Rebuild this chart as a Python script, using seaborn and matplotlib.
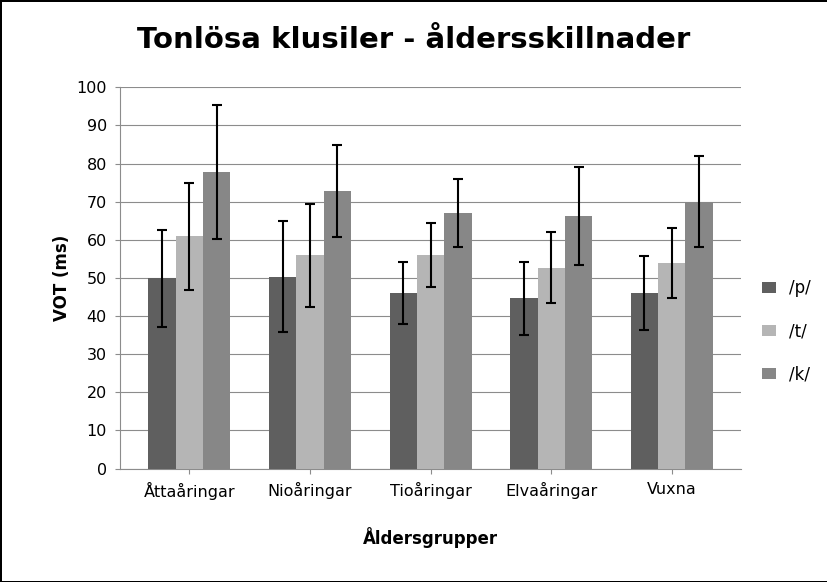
import seaborn as sns
import numpy as np
import pandas as pd
import matplotlib.pyplot as plt

groups = ["Åttaåringar", "Nioåringar", "Tioåringar", "Elvaåringar", "Vuxna"]
sounds = ["/p/", "/t/", "/k/"]
p_mean = [49.9, 50.3, 46.1, 44.7, 46.1]
t_mean = [60.9, 55.9, 55.9, 52.7, 53.8]
k_mean = [77.8, 72.7, 67.0, 66.3, 70.0]
p_err = [12.7, 14.5, 8.2, 9.6, 9.7]
t_err = [14.0, 13.6, 8.4, 9.4, 9.2]
k_err = [17.6, 12.1, 8.9, 12.8, 11.9]

df = pd.DataFrame({
    "grupp": groups * 3,
    "ljud": [s for s in sounds for _ in groups],
    "vot": p_mean + t_mean + k_mean,
    "err": p_err + t_err + k_err,
})
colors = ["#5f5f5f", "#b5b5b5", "#878787"]

fig = plt.figure(figsize=(8.28, 5.82), dpi=100)
fig.patch.set_edgecolor("black")
fig.patch.set_linewidth(2)
ax = fig.add_axes([0.145, 0.195, 0.75, 0.655])
sns.barplot(data=df, x="grupp", y="vot", hue="ljud", palette=colors,
            width=0.68, errorbar=None, ax=ax, zorder=3, legend=True)

# error bars at bar centres
for cont, s in zip(ax.containers, sounds):
    sub = df[df.ljud == s]
    xs = [b.get_x() + b.get_width() / 2 for b in cont]
    ax.errorbar(xs, sub.vot, yerr=sub.err, fmt="none", ecolor="black",
                elinewidth=1.5, capsize=3.5, capthick=1.5, zorder=4)

ax.set_ylim(0, 100)
ax.set_yticks(range(0, 101, 10))
ax.yaxis.grid(True, color="#8c8c8c", linewidth=0.8, zorder=0)
ax.set_axisbelow(True)
for side in ["top", "right"]:
    ax.spines[side].set_visible(False)
ax.spines["left"].set_color("#8c8c8c")
ax.spines["bottom"].set_color("#8c8c8c")
ax.tick_params(labelsize=11.5, color="#8c8c8c", pad=6)
ax.set_xlabel("Åldersgrupper", fontsize=12, fontweight="bold", labelpad=20)
ax.set_ylabel("VOT (ms)", fontsize=12, fontweight="bold")
fig.suptitle("Tonlösa klusiler - åldersskillnader", fontsize=21,
             fontweight="bold", y=0.955)
ax.legend(title=None, frameon=False, fontsize=12, loc="center left",
          bbox_to_anchor=(1.01, 0.36), labelspacing=1.5, handlelength=0.8)
fig.savefig("out.png", dpi=100, edgecolor=fig.get_edgecolor())
